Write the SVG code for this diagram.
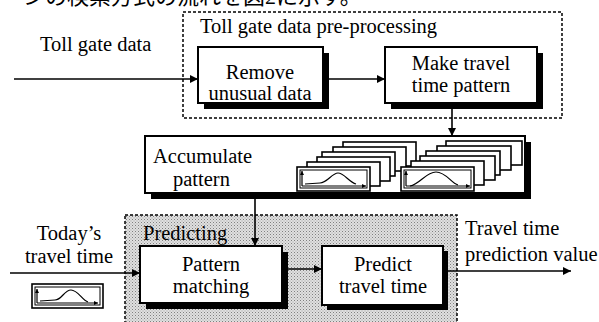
<svg xmlns="http://www.w3.org/2000/svg" width="599" height="322" viewBox="0 0 599 322">
  <style>
    .t { font-family: "Liberation Serif", "Times New Roman", serif; font-size: 20.5px; fill: #000; }
    .jp { font-family: "Liberation Serif", "Noto Sans CJK JP", sans-serif; font-size: 22px; fill: #000; }
    .box { fill: #fff; stroke: #000; stroke-width: 2; }
    .shadow { fill: #000; }
    .dash { fill: none; stroke: #000; stroke-width: 1.5; stroke-dasharray: 3 2; }
    .line { fill: none; stroke: #000; stroke-width: 1.6; }
    .card { fill: #fff; stroke: #000; stroke-width: 1.6; }
    .inner { fill: none; stroke: #000; stroke-width: 1; }
    .thin { fill: none; stroke: #000; stroke-width: 1.2; }
  </style>
  <defs>
    <marker id="arrow" viewBox="0 0 10 10" refX="10" refY="5" markerWidth="10" markerHeight="8" markerUnits="userSpaceOnUse" orient="auto">
      <path d="M0,0 L10,5 L0,10 Z" fill="#000"/>
    </marker>
    <marker id="tick" viewBox="0 0 6 6" refX="6" refY="3" markerWidth="4" markerHeight="4" markerUnits="userSpaceOnUse" orient="auto">
      <path d="M0,0 L6,3 L0,6 Z" fill="#000"/>
    </marker>
    <pattern id="stipple" width="3" height="3" patternUnits="userSpaceOnUse">
      <rect width="3" height="3" fill="#e0e0e0"/>
      <rect x="0" y="0" width="1" height="1" fill="#808080"/>
      <rect x="1.5" y="1.5" width="1" height="1" fill="#a0a0a0"/>
    </pattern>
  </defs>

  <rect width="599" height="322" fill="#fff"/>

  <!-- running text line above the figure (cut by the top edge) -->
  <text class="jp" x="2" y="4">ーンの検索方式の流れを図2に示す。</text>

  <!-- pre-processing group frame -->
  <g id="preprocessing">
    <rect class="dash" x="183" y="12" width="379" height="106"/>
    <text class="t" x="200" y="33">Toll gate data pre-processing</text>
  </g>

  <!-- predicting group frame -->
  <g id="predicting">
    <rect x="125" y="215" width="332" height="110" fill="url(#stipple)" stroke="#000" stroke-width="1.5" stroke-dasharray="3 2"/>
    <text class="t" x="143" y="240">Predicting</text>
  </g>

  <!-- free labels -->
  <g id="input-toll">
    <text class="t" x="40" y="51">Toll gate data</text>
  </g>
  <g id="input-today">
    <text class="t" x="69" y="240" text-anchor="middle">Today’s</text>
    <text class="t" x="69" y="263" text-anchor="middle">travel time</text>
    <rect class="card" x="32" y="284" width="71" height="24"/>
    <rect class="inner" x="35" y="287" width="65" height="18"/>
    <path class="thin" d="M37,303 L37,289" marker-end="url(#tick)"/>
    <path class="thin" d="M37,303 L98,303" marker-end="url(#tick)"/>
    <path class="thin" d="M40,301 L55,300 C62,300 64,290 71,290 C78,290 82,300 88,302"/>
  </g>
  <g id="output">
    <text class="t" x="465" y="235">Travel time</text>
    <text class="t" x="465" y="261">prediction value</text>
  </g>

  <!-- process boxes -->
  <g id="remove">
    <rect class="shadow" x="204" y="53" width="125" height="56"/>
    <rect class="box" x="198" y="47" width="125" height="56"/>
    <text class="t" x="260" y="79" text-anchor="middle">Remove</text>
    <text class="t" x="260" y="100" text-anchor="middle">unusual data</text>
  </g>
  <g id="make-pattern">
    <rect class="shadow" x="391" y="53" width="152" height="56"/>
    <rect class="box" x="385" y="47" width="152" height="56"/>
    <text class="t" x="461" y="70" text-anchor="middle">Make travel</text>
    <text class="t" x="461" y="92" text-anchor="middle">time pattern</text>
  </g>
  <g id="accumulate">
    <rect class="shadow" x="151" y="142" width="380" height="57"/>
    <rect class="box" x="145" y="136" width="380" height="57" stroke-width="1.6"/>
    <text class="t" x="153" y="163">Accumulate</text>
    <text class="t" x="173" y="186">pattern</text>
    <!-- first pattern stack -->
    <rect class="card" x="343" y="142" width="73" height="24"/>
    <rect class="card" x="333" y="147" width="73" height="24"/>
    <rect class="card" x="322" y="152" width="73" height="24"/>
    <rect class="card" x="317" y="157" width="73" height="24"/>
    <rect class="card" x="307" y="162" width="73" height="24"/>
    <rect class="card" x="297" y="167" width="73" height="24"/>
    <rect class="inner" x="300" y="170" width="67" height="18"/>
    <path class="thin" d="M302,186 L302,171" marker-end="url(#tick)"/>
    <path class="thin" d="M302,186 L366,186" marker-end="url(#tick)"/>
    <path class="thin" d="M305,184 L320,183 C327,183 332,173 338,173 C344,173 349,182 356,184"/>
    <!-- second pattern stack -->
    <rect class="card" x="446" y="141" width="76" height="24"/>
    <rect class="card" x="437" y="146" width="74" height="24"/>
    <rect class="card" x="426" y="151" width="74" height="24"/>
    <rect class="card" x="420" y="156" width="75" height="24"/>
    <rect class="card" x="411" y="161" width="73" height="24"/>
    <rect class="card" x="401" y="167" width="73" height="24"/>
    <rect class="inner" x="404" y="170" width="67" height="18"/>
    <path class="thin" d="M406,186 L406,171" marker-end="url(#tick)"/>
    <path class="thin" d="M406,186 L470,186" marker-end="url(#tick)"/>
    <path class="thin" d="M410,186 C420,184 426,172 436,172 C446,172 451,183 458,185"/>
  </g>
  <g id="pattern-matching">
    <rect class="shadow" x="146" y="252" width="142" height="57"/>
    <rect class="box" x="140" y="246" width="142" height="57"/>
    <text class="t" x="211" y="271" text-anchor="middle">Pattern</text>
    <text class="t" x="211" y="293" text-anchor="middle">matching</text>
  </g>
  <g id="predict">
    <rect class="shadow" x="327" y="251" width="121" height="59"/>
    <rect class="box" x="322" y="246" width="121" height="59"/>
    <text class="t" x="383" y="271" text-anchor="middle">Predict</text>
    <text class="t" x="383" y="293" text-anchor="middle">travel time</text>
  </g>

  <!-- connectors -->
  <g id="connectors">
    <path class="line" d="M14,79 L198,79" marker-end="url(#arrow)"/>
    <path class="line" d="M329,79 L385,79" marker-end="url(#arrow)"/>
    <path class="line" d="M452,109 L452,136" marker-end="url(#arrow)"/>
    <path class="line" d="M255,199 L255,246" marker-end="url(#arrow)"/>
    <path class="line" d="M10,273 L140,273" marker-end="url(#arrow)"/>
    <path class="line" d="M288,269 L322,269" marker-end="url(#arrow)"/>
    <path class="line" d="M448,271 L571,271" marker-end="url(#arrow)"/>
  </g>
</svg>
